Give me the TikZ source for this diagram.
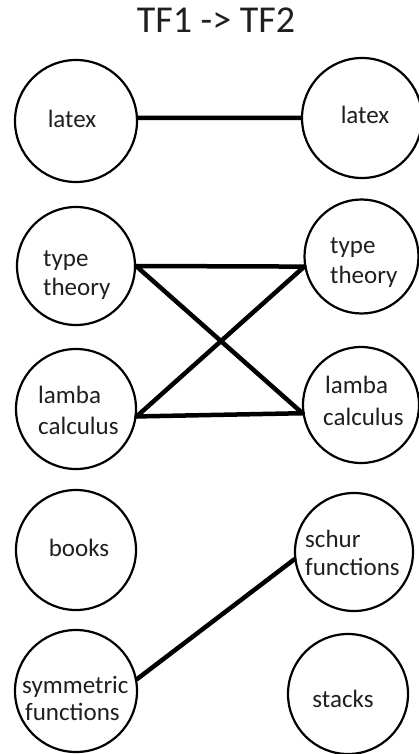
\documentclass[tikz,border=0pt]{standalone}
\usepackage{fontspec}
\setmainfont{Carlito}
\begin{document}
\begin{tikzpicture}[x=1pt,y=-1pt,
  circ/.style={draw=black, line width=2.2pt, circle, inner sep=0pt},
  lbl/.style={text=black!88, font=\fontsize{25}{30}\selectfont, inner sep=0pt},
  conn/.style={draw=black, line width=4.5pt, line cap=round}]
\useasboundingbox (0,0) rectangle (419,754);
\fill[white] (0,0) rectangle (419,754);
% title
\node[lbl, font=\fontsize{38}{44}\selectfont, anchor=base] (title) at (216,33) {TF1 -> TF2};
% circles
\node[circ, minimum size=122pt] (l1) at (76,121) {};
\node[circ, minimum size=120pt] (r1) at (362,118) {};
\node[circ, minimum size=118pt] (l2) at (76,266) {};
\node[circ, minimum size=114pt] (r2) at (361.5,256.5) {};
\node[circ, minimum size=120pt] (l3) at (76,409) {};
\node[circ, minimum size=116pt] (r3) at (361,405) {};
\node[circ, minimum size=120pt] (l4) at (76,550) {};
\node[circ, minimum size=118pt] (r4) at (354,552) {};
\node[circ, minimum size=122pt] (l5) at (76,691) {};
\node[circ, minimum size=120pt] (r5) at (348,694) {};
% labels
\node[lbl, anchor=base] (t1) at (72,128) {latex};
\node[lbl, anchor=base] (t2) at (365,124) {latex};
\node[lbl, anchor=base west] (t3a) at (43,266) {type};
\node[lbl, anchor=base west] (t3b) at (43,295) {theory};
\node[lbl, anchor=base west] (t4a) at (330,253) {type};
\node[lbl, anchor=base west] (t4b) at (330,283) {theory};
\node[lbl, anchor=base west] (t5a) at (38,403) {lamba};
\node[lbl, anchor=base west] (t5b) at (38,434) {calculus};
\node[lbl, anchor=base west] (t6a) at (325,393) {lamba};
\node[lbl, anchor=base west] (t6b) at (323,425) {calculus};
\node[lbl, anchor=base] (t7) at (79,556) {books};
\node[lbl, anchor=base west] (t8a) at (305,547) {schur};
\node[lbl, anchor=base west] (t8b) at (305,575) {functions};
\node[lbl, anchor=base west] (t9a) at (22,693) {symmetric};
\node[lbl, anchor=base west] (t9b) at (25,720) {functions};
\node[lbl, anchor=base] (t10) at (343,707) {stacks};
% connectors
\draw[conn] (l1.3) -- (r1.west);
\draw[conn] (l2.0) -- (r2.190);
\draw[conn] (l2.0) -- (r3.188);
\draw[conn] (l3.-7) -- (r2.190);
\draw[conn] (l3.-7) -- (r3.188);
\draw[conn] (l5.11) -- (r4.187);
\end{tikzpicture}
\end{document}
